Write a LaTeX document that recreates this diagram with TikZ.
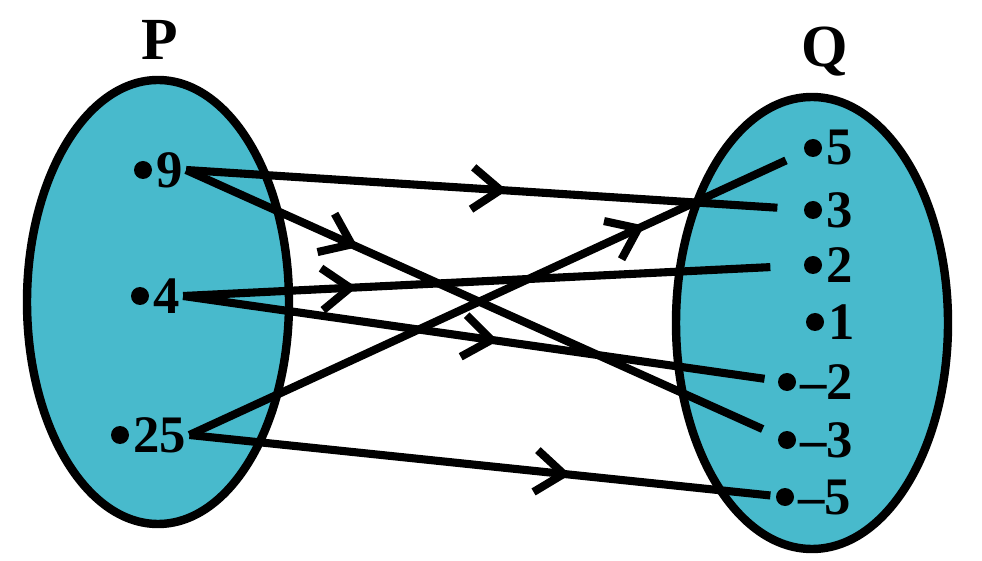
\documentclass[tikz,border=0pt]{standalone}
\usepackage{fontspec}
\setmainfont{Liberation Serif}
\usetikzlibrary{arrows.meta,decorations.markings,shapes.geometric}
\definecolor{setfill}{RGB}{72,186,204}
\tikzset{
  setbox/.style={draw, ellipse, line width=2.4pt, fill=setfill},
  elem/.style={circle, fill=black, inner sep=0pt, minimum size=1.8mm},
  num/.style={font=\fontsize{15}{18}\selectfont\bfseries, inner sep=0.8pt, anchor=west},
  setname/.style={font=\fontsize{17}{20}\selectfont\bfseries},
  maps/.style={line width=2.3pt, postaction=decorate,
    decoration={markings, mark=at position #1 with {\arrow{Straight Barb[length=2.8mm,width=4.2mm]}}}}
}
\begin{document}
\begin{tikzpicture}
\useasboundingbox (0,0) rectangle (9.82,5.60);
\node[setname] (Pname) at (1.60,5.20) {P};
\node[setname] (Qname) at (8.25,5.08) {Q};
\node[setbox, minimum width=2.62cm, minimum height=4.44cm] (P) at (1.58,2.58) {};
\node[setbox, minimum width=2.72cm, minimum height=4.52cm] (Q) at (8.12,2.37) {};
% elements of P
\node[elem] (p9) at (1.43,3.90) {};
\node[num] (l9) at (p9.east) {9};
\node[elem] (p4) at (1.40,2.64) {};
\node[num] (l4) at (p4.east) {4};
\node[elem] (p25) at (1.20,1.25) {};
\node[num] (l25) at (p25.east) {25};
% elements of Q
\node[elem] (q5) at (8.13,4.12) {};
\node[num] at (q5.east) {5};
\node[elem] (q3) at (8.13,3.50) {};
\node[num] at (q3.east) {3};
\node[elem] (q2) at (8.13,2.95) {};
\node[num] at (q2.east) {2};
\node[elem] (q1) at (8.15,2.38) {};
\node[num] at (q1.east) {1};
\node[elem] (qm2) at (7.87,1.78) {};
\node[num] at (qm2.east) {–2};
\node[elem] (qm3) at (7.87,1.20) {};
\node[num] at (qm3.east) {–3};
\node[elem] (qm5) at (7.85,0.63) {};
\node[num] at (qm5.east) {–5};
% mapping
\draw[maps=0.52, shorten >=2.6mm] (l9.east) -- (q3);
\draw[maps=0.29, shorten >=1.7mm] (l9.east) -- (qm3);
\draw[maps=0.28, shorten >=3.3mm] (l4.east) -- (q2);
\draw[maps=0.53, shorten >=1.3mm] (l4.east) -- (qm2);
\draw[maps=0.74, shorten >=2.0mm] (l25.east) -- (q5);
\draw[maps=0.65, shorten >=0.5mm] (l25.east) -- (qm5);
\end{tikzpicture}
\end{document}
